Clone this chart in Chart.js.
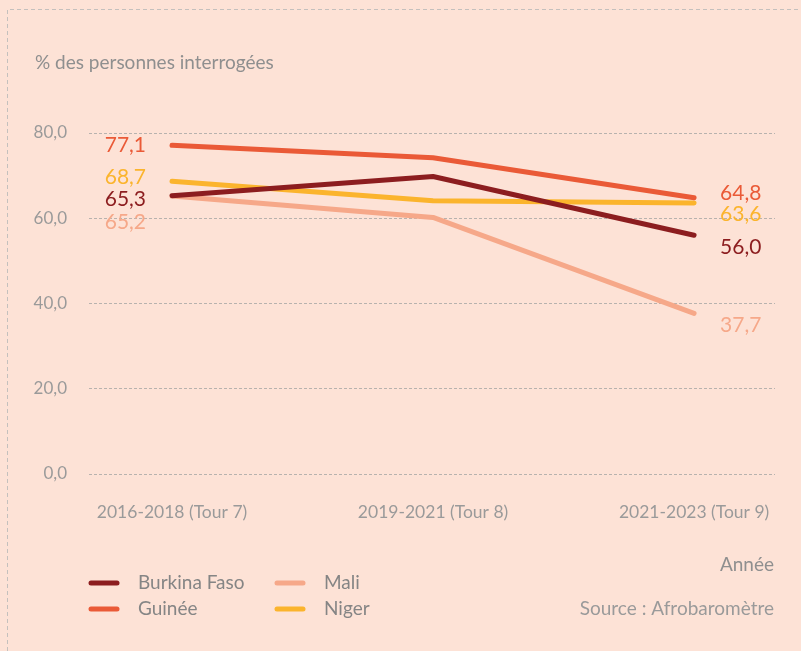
<!DOCTYPE html>
<html>
<head>
<meta charset="utf-8">
<script src="https://cdn.jsdelivr.net/npm/chart.js@4/dist/chart.umd.min.js"></script>
<style>
  html, body { margin: 0; padding: 0; background: #fde2d6; }
  #wrap { width: 801px; height: 651px; position: relative; }
</style>
</head>
<body>
<div id="wrap"><canvas id="myChart"></canvas></div>
<script>
// data
var periods = ["2016-2018 (Tour 7)", "2019-2021 (Tour 8)", "2021-2023 (Tour 9)"];
var burkina = [65.3, 69.8, 56.0];
var guinee = [77.1, 74.2, 64.8];
var mali = [65.2, 60.2, 37.7];
var niger = [68.7, 64.1, 63.6];
var yTicks = [0, 20, 40, 60, 80];

var FONT = "Lato, 'Open Sans', sans-serif";
var GREY = "#9a9a9a";

function toPoints(arr) {
  return arr.map((v, i) => ({x: i, y: v}));
}
function fmt(v) {
  return v.toFixed(1).replace(".", ",");
}

// label nudges so the end values don't sit on top of each other
var series = [
  {label: "Burkina Faso", data: burkina, color: "#8c1d1f", shiftL: 4, shiftR: 12},
  {label: "Guinée", data: guinee, color: "#ea5a37", shiftL: 0, shiftR: -5},
  {label: "Mali", data: mali, color: "#f6a889", shiftL: 26, shiftR: 12},
  {label: "Niger", data: niger, color: "#fbb42d", shiftL: -4, shiftR: 11}
];

var extras = {
  id: "extras",
  afterDraw(chart) {
    let c = chart.ctx;
    c.save();
    // dashed frame on top and left
    c.strokeStyle = "#c4c0bd";
    c.lineWidth = 1;
    c.setLineDash([4, 3]);
    c.beginPath();
    c.moveTo(7.5, 651);
    c.lineTo(7.5, 9.5);
    c.lineTo(801, 9.5);
    c.stroke();
    c.setLineDash([]);

    // axis title
    c.fillStyle = "#8f8f8f";
    c.font = "19px " + FONT;
    c.textAlign = "left";
    c.textBaseline = "middle";
    c.fillText("% des personnes interrogées", 35, 63);

    // value labels at both ends
    c.font = "21px " + FONT;
    chart.data.datasets.forEach((ds, i) => {
      let meta = chart.getDatasetMeta(i);
      let first = meta.data[0], last = meta.data[meta.data.length - 1];
      c.fillStyle = ds.borderColor;
      c.textAlign = "right";
      c.fillText(fmt(ds.data[0].y), first.x - 26, first.y + ds.shiftL);
      c.textAlign = "left";
      c.fillText(fmt(ds.data[ds.data.length - 1].y), last.x + 26, last.y + ds.shiftR);
    });

    // legend, two columns
    let spots = [[89, 583], [89, 609], [275, 583], [275, 609]];
    c.font = "19px " + FONT;
    c.textAlign = "left";
    chart.data.datasets.forEach((ds, k) => {
      let p = spots[k];
      c.strokeStyle = ds.borderColor;
      c.lineWidth = 5;
      c.lineCap = "round";
      c.beginPath();
      c.moveTo(p[0] + 2, p[1]);
      c.lineTo(p[0] + 28, p[1]);
      c.stroke();
      c.fillStyle = "#858585";
      c.fillText(ds.label, p[0] + 49, p[1]);
    });

    c.textAlign = "right";
    c.fillStyle = "#8f8f8f";
    c.fillText("Année", 774, 565);
    c.fillStyle = GREY;
    c.fillText("Source : Afrobaromètre", 774, 609);
    c.restore();
  }
};

var ctx = document.getElementById("myChart").getContext("2d");
var myChart = new Chart(ctx, {
  type: "line",
  data: {
    datasets: series.map(s => ({
      label: s.label,
      data: toPoints(s.data),
      borderColor: s.color,
      backgroundColor: s.color,
      borderWidth: 5,
      borderCapStyle: "round",
      borderJoinStyle: "round",
      pointRadius: 0,
      tension: 0,
      shiftL: s.shiftL,
      shiftR: s.shiftR
    }))
  },
  options: {
    responsive: true,
    maintainAspectRatio: false,
    animation: false,
    layout: {padding: {top: 133, left: 30, right: 26, bottom: 0}},
    plugins: {
      legend: {display: false},
      tooltip: {enabled: false}
    },
    scales: {
      x: {
        type: "linear",
        min: -0.318,
        max: 2.31,
        afterFit(scale) { scale.height = 177; },
        border: {display: false},
        grid: {display: false, drawTicks: false},
        ticks: {
          stepSize: 1,
          includeBounds: false,
          autoSkip: false,
          maxRotation: 0,
          padding: 28,
          color: GREY,
          font: {family: FONT, size: 17.5},
          callback: v => periods[v] !== undefined && Number.isInteger(v) ? periods[v] : ""
        }
      },
      y: {
        min: yTicks[0],
        max: yTicks[yTicks.length - 1],
        afterFit(scale) { scale.width = 59; },
        afterBuildTicks(scale) { scale.ticks = yTicks.map(v => ({value: v})); },
        border: {display: false, dash: [3, 2]},
        grid: {color: "#b7b2ae", lineWidth: 1, drawTicks: false},
        ticks: {
          padding: 22,
          color: GREY,
          font: {family: FONT, size: 17},
          callback: v => fmt(v)
        }
      }
    }
  },
  plugins: [extras]
});
</script>
</body>
</html>
